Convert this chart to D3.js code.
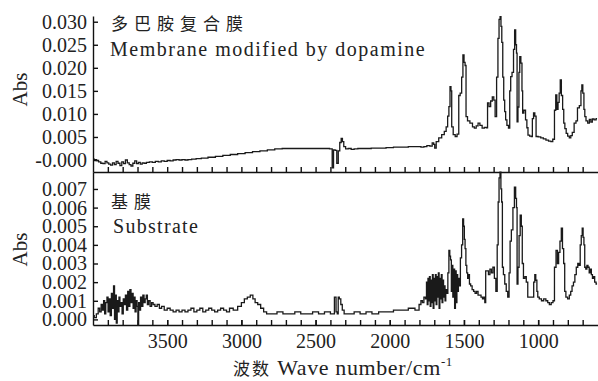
<!DOCTYPE html>
<html>
<head>
<meta charset="utf-8">
<script src="https://cdn.jsdelivr.net/npm/d3@7"></script>
<style>
  body { margin: 0; background: #fff; }
  text { font-family: "Liberation Serif", "Noto Sans CJK SC", serif; fill: #222; }
</style>
</head>
<body>
<svg id="chart" width="598" height="381"></svg>
<script>
// spectrum of the membrane modified by dopamine: [wavenumber, absorbance]
const modifiedSpectrum = [
  [3998, 0.0002], [3985, 0.0001], [3970, -0.0001], [3955, -0.0004], [3940, -0.0007], [3925, -0.0008],
  [3912, -0.0003], [3900, -0.0006], [3888, -0.0009], [3875, -0.0011], [3862, -0.0006], [3850, -0.0010],
  [3838, -0.0003], [3825, -0.0007], [3812, -0.0012], [3800, -0.0004], [3788, -0.0008], [3775, 0.0000],
  [3762, -0.0006], [3750, -0.0010], [3738, -0.0013], [3725, -0.0007], [3712, -0.0002], [3700, -0.0008],
  [3688, -0.0005], [3675, -0.0009], [3662, -0.0006], [3650, -0.0007], [3630, -0.0005], [3610, -0.0004],
  [3590, -0.0005], [3570, -0.0003], [3550, -0.0004], [3530, -0.0002], [3510, -0.0003], [3490, -0.0001],
  [3470, -0.0002], [3450, 0.0000], [3430, 0.0001], [3410, 0.0000], [3390, 0.0001], [3370, 0.0000],
  [3350, 0.0001], [3320, 0.0002], [3290, 0.0003], [3250, 0.0004], [3200, 0.0006], [3150, 0.0008],
  [3100, 0.0010], [3050, 0.0012], [3000, 0.0014], [2950, 0.0016], [2900, 0.0018], [2850, 0.0020],
  [2800, 0.0022], [2750, 0.0024], [2700, 0.0025], [2600, 0.0025], [2500, 0.0025], [2420, 0.0025],
  [2392, 0.0024], [2384, -0.0017], [2374, 0.0022], [2362, 0.0021], [2352, -0.0007], [2342, 0.0020],
  [2332, 0.0038], [2323, 0.0047], [2315, 0.0040], [2305, 0.0029], [2290, 0.0024], [2270, 0.0025],
  [2250, 0.0023], [2230, 0.0024], [2200, 0.0025], [2150, 0.0025], [2100, 0.0026], [2050, 0.0026],
  [2000, 0.0027], [1950, 0.0028], [1900, 0.0028], [1850, 0.0029], [1800, 0.0029], [1780, 0.0028],
  [1760, 0.0029], [1740, 0.0031], [1720, 0.0030], [1708, 0.0037], [1700, 0.0034], [1694, 0.0026],
  [1680, 0.0040], [1660, 0.0048], [1640, 0.0055], [1625, 0.0062], [1615, 0.0072], [1605, 0.0095],
  [1598, 0.0116], [1590, 0.0159], [1585, 0.0150], [1580, 0.0072], [1565, 0.0055], [1553, 0.0051],
  [1540, 0.0056], [1530, 0.0140], [1521, 0.0145], [1510, 0.0180], [1504, 0.0228], [1495, 0.0212],
  [1490, 0.0205], [1482, 0.0094], [1470, 0.0085], [1450, 0.0080], [1435, 0.0072], [1425, 0.0069],
  [1410, 0.0074], [1400, 0.0080], [1385, 0.0075], [1370, 0.0069], [1355, 0.0071], [1345, 0.0070],
  [1337, 0.0124], [1325, 0.0116], [1315, 0.0128], [1303, 0.0137], [1295, 0.0130], [1285, 0.0094],
  [1275, 0.0180], [1267, 0.0264], [1260, 0.0305], [1253, 0.0311], [1248, 0.0290], [1242, 0.0255],
  [1235, 0.0180], [1229, 0.0130], [1222, 0.0105], [1216, 0.0087], [1205, 0.0075], [1195, 0.0069],
  [1188, 0.0150], [1182, 0.0181], [1170, 0.0190], [1162, 0.0240], [1155, 0.0282], [1148, 0.0250],
  [1144, 0.0232], [1140, 0.0083], [1132, 0.0115], [1127, 0.0190], [1121, 0.0224], [1112, 0.0210],
  [1106, 0.0150], [1103, 0.0102], [1090, 0.0108], [1080, 0.0087], [1072, 0.0070], [1065, 0.0054],
  [1050, 0.0052], [1043, 0.0051], [1035, 0.0090], [1027, 0.0102], [1018, 0.0095], [1010, 0.0051],
  [990, 0.0050], [975, 0.0048], [955, 0.0046], [940, 0.0043], [920, 0.0041], [908, 0.0040],
  [895, 0.0045], [885, 0.0108], [878, 0.0141], [870, 0.0110], [862, 0.0125], [855, 0.0145],
  [847, 0.0174], [840, 0.0140], [830, 0.0110], [825, 0.0080], [815, 0.0068], [807, 0.0058],
  [795, 0.0052], [785, 0.0048], [775, 0.0053], [765, 0.0060], [750, 0.0080], [740, 0.0085],
  [730, 0.0113], [715, 0.0118], [708, 0.0150], [703, 0.0163], [695, 0.0145], [688, 0.0110],
  [683, 0.0094], [672, 0.0085], [660, 0.0080], [650, 0.0088], [640, 0.0082], [630, 0.0089],
  [616, 0.0087], [603, 0.0090]
];

// spectrum of the bare substrate
const substrateSpectrum = [
  [3998, 0.0002], [3985, 0.0001], [3970, 0.0003], [3960, 0.0006], [3950, 0.0004], [3940, 0.0008],
  [3932, 0.0005], [3925, 0.0010], [3918, 0.0003], [3910, 0.0009], [3902, 0.0012], [3895, 0.0004],
  [3888, 0.0011], [3880, 0.0002], [3872, 0.0014], [3865, 0.0006], [3858, 0.0018], [3852, 0.0000],
  [3846, 0.0013], [3840, -0.0002], [3834, 0.0010], [3828, 0.0004], [3822, 0.0012], [3815, 0.0007],
  [3808, 0.0009], [3800, 0.0003], [3792, 0.0011], [3785, 0.0008], [3778, 0.0013], [3770, 0.0005],
  [3762, 0.0015], [3755, 0.0007], [3748, 0.0016], [3740, 0.0009], [3733, 0.0014], [3726, 0.0006],
  [3720, 0.0012], [3713, 0.0004], [3706, 0.0010], [3700, 0.0007], [3695, -0.0003], [3690, 0.0009],
  [3683, 0.0005], [3676, 0.0012], [3668, 0.0007], [3660, 0.0013], [3652, 0.0009], [3645, 0.0011],
  [3637, 0.0013], [3630, 0.0008], [3620, 0.0010], [3610, 0.0007], [3600, 0.0009], [3590, 0.0008],
  [3575, 0.0007], [3560, 0.0008], [3545, 0.0006], [3530, 0.0007], [3510, 0.0005], [3490, 0.0006],
  [3470, 0.0005], [3450, 0.0004], [3430, 0.0005], [3410, 0.0004], [3390, 0.0005], [3370, 0.0004],
  [3350, 0.0005], [3330, 0.0006], [3310, 0.0004], [3290, 0.0005], [3270, 0.0006], [3250, 0.0004],
  [3230, 0.0005], [3210, 0.0006], [3190, 0.0005], [3170, 0.0004], [3150, 0.0005], [3130, 0.0006],
  [3110, 0.0005], [3090, 0.0004], [3070, 0.0006], [3040, 0.0005], [3010, 0.0007], [2990, 0.0009],
  [2970, 0.0011], [2950, 0.0012], [2930, 0.0013], [2915, 0.0011], [2900, 0.0009], [2880, 0.0008],
  [2860, 0.0006], [2840, 0.0004], [2820, 0.0003], [2780, 0.0003], [2740, 0.0004], [2700, 0.0003],
  [2660, 0.0003], [2620, 0.0004], [2580, 0.0003], [2540, 0.0003], [2500, 0.0004], [2460, 0.0003],
  [2420, 0.0004], [2380, 0.0003], [2366, 0.0012], [2358, 0.0004], [2350, 0.0003], [2345, 0.0012],
  [2335, 0.0011], [2325, 0.0008], [2315, 0.0005], [2300, 0.0003], [2260, 0.0003], [2220, 0.0004],
  [2180, 0.0003], [2140, 0.0004], [2100, 0.0003], [2050, 0.0004], [2000, 0.0004], [1950, 0.0005],
  [1900, 0.0005], [1850, 0.0006], [1810, 0.0005], [1795, 0.0008], [1785, 0.0010], [1775, 0.0009],
  [1765, 0.0012], [1755, 0.0011], [1750, 0.0020], [1745, 0.0008], [1740, 0.0022], [1735, 0.0010],
  [1730, 0.0023], [1725, 0.0007], [1720, 0.0021], [1715, 0.0009], [1710, 0.0024], [1705, 0.0006],
  [1700, 0.0022], [1695, 0.0010], [1690, 0.0024], [1685, 0.0008], [1680, 0.0023], [1675, 0.0012],
  [1670, 0.0025], [1665, 0.0006], [1660, 0.0022], [1655, 0.0011], [1650, 0.0024], [1645, 0.0009],
  [1640, 0.0021], [1635, 0.0012], [1630, 0.0018], [1625, 0.0010], [1620, 0.0016], [1612, 0.0014],
  [1605, 0.0025], [1598, 0.0037], [1593, 0.0034], [1588, 0.0032], [1582, 0.0015], [1578, 0.0029],
  [1572, 0.0012], [1566, 0.0027], [1560, 0.0006], [1555, 0.0026], [1550, 0.0009], [1545, 0.0024],
  [1540, 0.0015], [1535, 0.0022], [1528, 0.0018], [1520, 0.0033], [1512, 0.0040], [1505, 0.0054],
  [1500, 0.0050], [1495, 0.0043], [1490, 0.0038], [1484, 0.0029], [1478, 0.0025], [1472, 0.0022],
  [1466, 0.0024], [1460, 0.0019], [1450, 0.0018], [1440, 0.0016], [1430, 0.0015], [1420, 0.0014],
  [1410, 0.0015], [1400, 0.0013], [1390, 0.0013], [1380, 0.0012], [1370, 0.0011], [1362, 0.0012],
  [1357, 0.0009], [1350, 0.0026], [1340, 0.0026], [1330, 0.0024], [1320, 0.0027], [1310, 0.0025],
  [1300, 0.0028], [1290, 0.0022], [1280, 0.0015], [1272, 0.0040], [1267, 0.0063], [1260, 0.0076],
  [1254, 0.0079], [1248, 0.0070], [1244, 0.0063], [1238, 0.0028], [1230, 0.0024], [1220, 0.0019],
  [1210, 0.0015], [1200, 0.0012], [1192, 0.0025], [1186, 0.0042], [1175, 0.0048], [1165, 0.0060],
  [1155, 0.0071], [1148, 0.0065], [1144, 0.0060], [1140, 0.0019], [1132, 0.0028], [1125, 0.0045],
  [1117, 0.0056], [1110, 0.0050], [1104, 0.0030], [1094, 0.0022], [1085, 0.0023], [1075, 0.0020],
  [1065, 0.0012], [1050, 0.0012], [1035, 0.0012], [1025, 0.0020], [1020, 0.0024], [1012, 0.0021],
  [1005, 0.0015], [1000, 0.0012], [985, 0.0011], [970, 0.0010], [955, 0.0011], [941, 0.0010],
  [930, 0.0009], [919, 0.0008], [905, 0.0009], [895, 0.0010], [885, 0.0028], [874, 0.0037],
  [866, 0.0030], [858, 0.0036], [848, 0.0042], [840, 0.0049], [832, 0.0038], [824, 0.0030],
  [818, 0.0015], [808, 0.0012], [795, 0.0011], [785, 0.0013], [776, 0.0015], [767, 0.0018],
  [757, 0.0020], [748, 0.0024], [738, 0.0028], [728, 0.0030], [720, 0.0029], [713, 0.0040],
  [706, 0.0045], [700, 0.0049], [694, 0.0044], [689, 0.0040], [683, 0.0028], [675, 0.0027],
  [668, 0.0029], [660, 0.0028], [652, 0.0025], [645, 0.0027], [638, 0.0024], [630, 0.0022],
  [622, 0.0023], [616, 0.0020], [603, 0.0019]
];

const xMajorTicks = [3500, 3000, 2500, 2000, 1500, 1000];
const xMinorTicks = d3.range(3900, 600, -100);
const topTicks = [0, 0.005, 0.010, 0.015, 0.020, 0.025, 0.030];
const topTickLabels = ["-0.000", "0.005", "0.010", "0.015", "0.020", "0.025", "0.030"];
const bottomTicks = [0, 0.001, 0.002, 0.003, 0.004, 0.005, 0.006, 0.007];
const bottomTickLabels = ["0.000", "0.001", "0.002", "0.003", "0.004", "0.005", "0.006", "0.007"];

const svg = d3.select("#chart");
const left = 93, right = 597.5;
const topPanel = { top: 16, bottom: 172 };
const bottomPanel = { top: 172, bottom: 325 };

const x = d3.scaleLinear().domain([4000, 600]).range([left, right]);
const yTop = d3.scaleLinear().domain([-0.0026, 0.03124]).range([topPanel.bottom, topPanel.top]);
const yBottom = d3.scaleLinear().domain([-0.0003, 0.00791]).range([bottomPanel.bottom, bottomPanel.top]);

const styleAxis = (g) => {
  g.selectAll("path, line").attr("stroke", "#111").attr("stroke-width", 1.4);
  g.selectAll("text").attr("font-size", "20px").attr("fill", "#222")
    .attr("font-family", "Liberation Serif, serif");
};

// minor x ticks for both panels (inward, no labels)
[topPanel.bottom, bottomPanel.bottom].forEach((yPos) => {
  svg.append("g")
    .attr("transform", `translate(0,${yPos})`)
    .call(d3.axisBottom(x).tickValues(xMinorTicks).tickSize(-5).tickSizeOuter(0).tickFormat(""))
    .call(styleAxis);
});
// labelled x ticks on the bottom
svg.append("g")
  .attr("transform", `translate(0,${bottomPanel.bottom})`)
  .call(d3.axisBottom(x).tickValues(xMajorTicks).tickSize(-5).tickSizeOuter(0).tickPadding(9).tickFormat(d3.format("d")))
  .call(styleAxis)
  .call((g) => g.select(".domain").remove());

// y axes
svg.append("g")
  .attr("transform", `translate(${left},0)`)
  .call(d3.axisLeft(yTop).tickValues(topTicks).tickSize(-5).tickSizeOuter(0).tickPadding(6)
    .tickFormat((d, i) => topTickLabels[i]))
  .call(styleAxis);
svg.append("g")
  .attr("transform", `translate(${left},0)`)
  .call(d3.axisLeft(yBottom).tickValues(bottomTicks).tickSize(-5).tickSizeOuter(0).tickPadding(6)
    .tickFormat((d, i) => bottomTickLabels[i]))
  .call(styleAxis);

// spectra
const lineTop = d3.line().x((d) => x(d[0])).y((d) => yTop(d[1])).curve(d3.curveStep);
const lineBottom = d3.line().x((d) => x(d[0])).y((d) => yBottom(d[1])).curve(d3.curveStep);

svg.append("path").datum(modifiedSpectrum)
  .attr("d", lineTop).attr("fill", "none").attr("stroke", "#1a1a1a").attr("stroke-width", 1.3);
svg.append("path").datum(substrateSpectrum)
  .attr("d", lineBottom).attr("fill", "none").attr("stroke", "#1a1a1a").attr("stroke-width", 1.3);

// y titles
[[89.5, "Abs"], [249.5, "Abs"]].forEach(([cy, t]) => {
  svg.append("text")
    .attr("transform", `translate(27,${cy}) rotate(-90)`)
    .attr("text-anchor", "middle")
    .attr("font-size", "21px")
    .text(t);
});

// panel notes
svg.append("text").attr("x", 111).attr("y", 30).attr("font-size", "17px")
  .attr("letter-spacing", "6px").text("多巴胺复合膜");
svg.append("text").attr("x", 110).attr("y", 56).attr("font-size", "20px")
  .attr("letter-spacing", "1.5px").text("Membrane modified by dopamine");
svg.append("text").attr("x", 111).attr("y", 208).attr("font-size", "17px")
  .attr("letter-spacing", "6px").text("基膜");
svg.append("text").attr("x", 113).attr("y", 233).attr("font-size", "20px")
  .attr("letter-spacing", "1.3px").text("Substrate");

// x title
const xTitle = svg.append("text").attr("x", 233).attr("y", 375).attr("font-size", "22px")
  .attr("letter-spacing", "0.6px");
xTitle.append("tspan").attr("font-size", "17px").attr("letter-spacing", "2px").text("波数 ");
xTitle.append("tspan").text("Wave number/cm");
xTitle.append("tspan").attr("font-size", "13px").attr("dy", -9).text("-1");
</script>
</body>
</html>
